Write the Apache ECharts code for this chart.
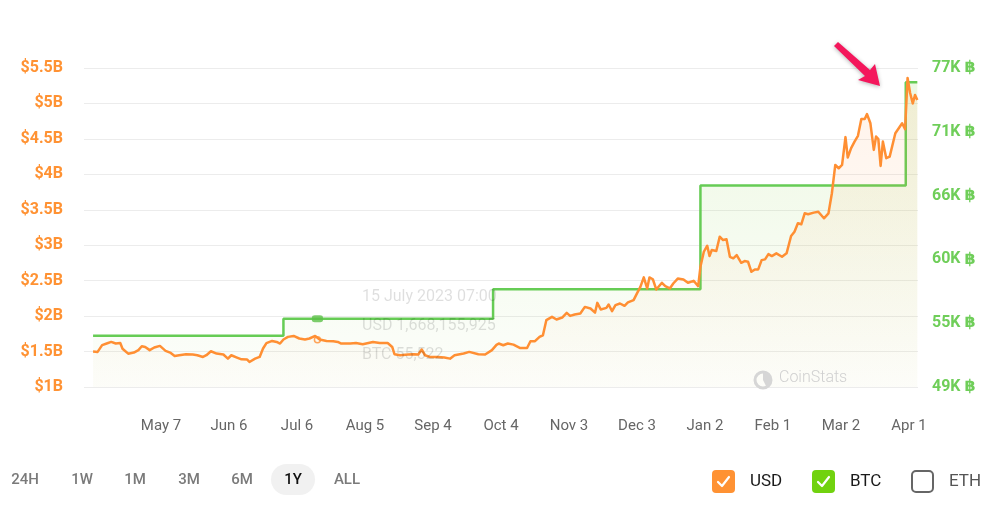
<!DOCTYPE html>
<html>
<head>
<meta charset="utf-8">
<script src="https://cdn.jsdelivr.net/npm/echarts@6/dist/echarts.min.js"></script>
<style>
  html, body { margin: 0; padding: 0; background: #fff; }
  #chart { width: 1003px; height: 517px; }
</style>
</head>
<body>
<div id="chart"></div>
<script>
// Day offsets counted from 7 April 2023 (day 0)
const tickDays = [30, 60, 90, 120, 150, 180, 210, 240, 270, 300, 330, 360];
const tickLabels = ['May 7', 'Jun 6', 'Jul 6', 'Aug 5', 'Sep 4', 'Oct 4', 'Nov 3', 'Dec 3', 'Jan 2', 'Feb 1', 'Mar 2', 'Apr 1'];

// USD value (billions)
const usdDay = [0, 2, 4, 6, 8, 10, 12, 13, 15.5, 18, 20, 21.5, 23, 25, 27, 29.5, 32, 34, 36, 38, 41, 44, 46, 48.5, 50, 52, 54.5, 57.5, 59.5, 61, 63.5, 65.5, 68, 69, 71.5, 73.5, 75, 76.5, 79, 81, 82.5, 84, 86, 88.5, 91, 93.5, 95.5, 98, 100, 103, 106, 108, 109.5, 113.5, 116, 119, 123.5, 126.5, 130, 132, 133, 135.5, 139, 141.5, 143.5, 145, 146.5, 148.5, 152, 155, 157.5, 159.5, 163.5, 166, 170, 173, 176, 178, 179, 181, 183, 185.5, 188.5, 191.5, 193, 195, 197, 198.5, 200, 202.5, 204.5, 207, 209, 210.5, 212.5, 215, 217, 219.5, 221.5, 222.5, 224, 226.5, 227.5, 229, 230.5, 232.5, 234.5, 236, 238.5, 240, 241.5, 243, 244.5, 245.5, 247, 248.5, 251, 252.5, 254.5, 256, 258, 260.5, 262.5, 265, 267, 268, 269.5, 271, 272, 273, 275, 276.5, 278, 279.5, 281, 282.5, 284, 286, 287.5, 289, 290.5, 292, 293.5, 295, 296.5, 298, 299.5, 301.5, 304, 306, 308, 309.5, 311, 312.5, 314, 315.5, 318, 320, 322.5, 324.5, 326, 327.5, 329, 330.5, 332, 333, 334.5, 336, 337.5, 339, 340.5, 341.5, 343, 344.5, 345.5, 346.5, 347.5, 348.5, 350, 351.5, 354, 355.5, 357, 358.3, 359.4, 360.5, 361.7, 362.7, 363.7];
const usdVal = [1.50, 1.495, 1.59, 1.613, 1.636, 1.613, 1.62, 1.54, 1.47, 1.486, 1.52, 1.575, 1.565, 1.52, 1.557, 1.58, 1.51, 1.486, 1.438, 1.448, 1.462, 1.458, 1.448, 1.424, 1.448, 1.504, 1.472, 1.458, 1.40, 1.448, 1.415, 1.39, 1.387, 1.353, 1.40, 1.424, 1.543, 1.62, 1.65, 1.636, 1.613, 1.67, 1.707, 1.72, 1.684, 1.67, 1.684, 1.72, 1.67, 1.65, 1.646, 1.636, 1.613, 1.613, 1.62, 1.603, 1.636, 1.62, 1.62, 1.565, 1.462, 1.448, 1.458, 1.462, 1.458, 1.529, 1.448, 1.424, 1.424, 1.415, 1.40, 1.448, 1.472, 1.495, 1.462, 1.458, 1.52, 1.595, 1.613, 1.589, 1.613, 1.598, 1.55, 1.55, 1.646, 1.646, 1.707, 1.73, 1.943, 1.99, 1.952, 1.98, 2.046, 2.003, 2.023, 2.037, 2.13, 2.108, 2.05, 2.187, 2.094, 2.116, 2.164, 2.07, 2.155, 2.178, 2.145, 2.193, 2.225, 2.32, 2.413, 2.546, 2.39, 2.546, 2.52, 2.376, 2.47, 2.423, 2.39, 2.46, 2.53, 2.518, 2.47, 2.498, 2.423, 2.696, 2.908, 2.993, 2.847, 2.932, 2.918, 3.12, 3.073, 3.083, 2.837, 2.815, 2.861, 2.752, 2.776, 2.767, 2.625, 2.659, 2.659, 2.79, 2.80, 2.875, 2.847, 2.885, 2.837, 2.885, 3.13, 3.19, 3.31, 3.295, 3.45, 3.437, 3.46, 3.473, 3.38, 3.45, 3.733, 4.133, 4.086, 4.133, 4.525, 4.237, 4.37, 4.462, 4.543, 4.78, 4.78, 4.85, 4.72, 4.345, 4.533, 4.496, 4.119, 4.462, 4.227, 4.25, 4.58, 4.65, 4.72, 4.637, 5.36, 5.15, 5.0, 5.12, 5.05];

// BTC holdings
const btcDay = [0, 84, 176.5, 268, 358.6, 363.7];
const btcVal = [53500, 55000, 57570, 66680, 75740, 75740];

// Left and right axis ranges
const usdMin = 1, usdMax = 5.5, usdStep = 0.5;
const btcMin = 49000, btcMax = 77000, btcStep = 5600;

// Highlighted point (tooltip)
const hoverDay = 99;
const hoverUsd = 1.668155925;
const hoverBtc = 55000;
const tooltipLines = ['15 July 2023 07:00', 'USD 1,668,155,925', 'BTC 55,522'];

const rangeButtons = ['24H', '1W', '1M', '3M', '6M', '1Y', 'ALL'];
const legendItems = ['USD', 'BTC', 'ETH'];

const usdData = usdDay.map((d, i) => [d, usdVal[i]]);
const btcData = btcDay.map((d, i) => [d, btcVal[i]]);

function fmtUsd(v) {
  return '$' + (+v.toFixed(1)) + 'B';
}

const chart = echarts.init(document.getElementById('chart'), null, { renderer: 'canvas' });

const graphics = [];
tooltipLines.forEach((t, i) => {
  graphics.push({ type: 'text', left: 362, top: 289 + i * 29, style: { text: t, fill: 'rgba(0,0,0,0.13)', font: '16px Roboto' }, z: 6 });
});
// CoinStats watermark
graphics.push({ type: 'circle', shape: { cx: 763, cy: 380, r: 8 }, style: { fill: 'none', stroke: '#d6d6d6', lineWidth: 3 }, z: 5 });
graphics.push({ type: 'sector', shape: { cx: 763, cy: 380, r: 8, r0: 0, startAngle: -Math.PI / 2, endAngle: Math.PI * 0.35 }, style: { fill: '#d6d6d6' }, z: 5 });
graphics.push({ type: 'text', left: 779, top: 370, style: { text: 'CoinStats', fill: '#d0d0d0', font: '300 16px Roboto' }, z: 5 });

// pink arrow
graphics.push({
  type: 'polygon',
  shape: { points: [[834, 46], [838, 42], [870, 70], [875, 64], [880, 86], [858, 80], [865, 76]] },
  style: { fill: '#f4175c', shadowBlur: 4, shadowColor: 'rgba(0,0,0,0.3)', shadowOffsetY: 1 },
  z: 10
});

// range buttons
const btnX = [25, 82, 135, 189, 242, 293, 347];
rangeButtons.forEach((b, i) => {
  if (b === '1Y') {
    graphics.push({ type: 'rect', shape: { x: btnX[i] - 22, y: 464, width: 44, height: 31, r: 15.5 }, style: { fill: '#f1f1f1' } });
  }
  graphics.push({ type: 'text', x: btnX[i], y: 480, style: { text: b, fill: b === '1Y' ? '#111' : '#7a7a7a', font: '500 15px Roboto', align: 'center', verticalAlign: 'middle' } });
});

// legend checkboxes
const legX = [712, 812, 911];
const legFill = ['#ff9233', '#71d20f', null];
legendItems.forEach((l, i) => {
  const x = legX[i];
  if (legFill[i]) {
    graphics.push({ type: 'rect', shape: { x: x, y: 470, width: 23, height: 23, r: 4 }, style: { fill: legFill[i] } });
    graphics.push({ type: 'polyline', shape: { points: [[x + 6, 482], [x + 10, 486], [x + 17, 477]] }, style: { stroke: '#fff', lineWidth: 2.2, fill: 'none', lineCap: 'round', lineJoin: 'round' } });
  } else {
    graphics.push({ type: 'rect', shape: { x: x + 1, y: 471, width: 21, height: 21, r: 4 }, style: { fill: '#fff', stroke: '#666', lineWidth: 2 } });
  }
  graphics.push({ type: 'text', x: x + 38, y: 482, style: { text: l, fill: legFill[i] ? '#1a1a1a' : '#555', font: '17px Roboto', verticalAlign: 'middle' } });
});

const option = {
  animation: false,
  backgroundColor: '#fff',
  grid: { left: 84, right: 85, top: 68, bottom: 130, containLabel: false },
  xAxis: {
    type: 'value',
    min: -4,
    max: 364,
    axisLine: { show: false },
    axisTick: { show: false },
    splitLine: { show: false },
    axisLabel: {
      customValues: tickDays,
      margin: 32,
      color: '#666',
      fontSize: 15,
      fontFamily: 'Roboto',
      formatter: v => tickLabels[tickDays.indexOf(Math.round(v))] || ''
    }
  },
  yAxis: [
    {
      type: 'value',
      min: usdMin, max: usdMax, interval: usdStep,
      position: 'left',
      axisLine: { show: false }, axisTick: { show: false },
      splitLine: { lineStyle: { color: '#ececec', width: 1 } },
      axisLabel: { margin: 21, color: '#ff9233', fontSize: 16, fontWeight: 'bold', fontFamily: 'Roboto', formatter: fmtUsd }
    },
    {
      type: 'value',
      min: btcMin, max: btcMax, interval: btcStep,
      position: 'right',
      axisLine: { show: false }, axisTick: { show: false },
      splitLine: { show: false },
      axisLabel: {
        margin: 14, color: '#6fce59',
        formatter: v => '{n|' + Math.round(v / 1000) + 'K }{b|\u0E3F}',
        rich: {
          n: { color: '#6fce59', fontSize: 16, fontWeight: 'bold', fontFamily: 'Roboto' },
          b: { color: '#6fce59', fontSize: 16, fontWeight: 'bold', fontFamily: '"DejaVu Sans"' }
        }
      }
    }
  ],
  series: [
    {
      name: 'BTC', type: 'line', yAxisIndex: 1, data: btcData, step: 'end',
      symbol: 'none',
      lineStyle: { color: '#66cc55', width: 2.5 },
      areaStyle: {
        color: new echarts.graphic.LinearGradient(0, 0, 0, 1, [
          { offset: 0, color: 'rgba(140,210,70,0.22)' },
          { offset: 1, color: 'rgba(140,210,70,0.03)' }
        ])
      },
      z: 2
    },
    {
      name: 'USD', type: 'line', yAxisIndex: 0, data: usdData,
      symbol: 'none',
      lineStyle: { color: '#ff8f33', width: 2.5, join: 'round' },
      areaStyle: {
        color: new echarts.graphic.LinearGradient(0, 0, 0, 1, [
          { offset: 0, color: 'rgba(255,150,70,0.16)' },
          { offset: 1, color: 'rgba(255,150,70,0.02)' }
        ])
      },
      z: 3
    },
    {
      type: 'scatter', yAxisIndex: 1, data: [[hoverDay, hoverBtc]],
      symbol: 'roundRect', symbolSize: [11, 7],
      itemStyle: { color: '#5cc048' }, z: 4
    },
    {
      type: 'scatter', yAxisIndex: 0, data: [[hoverDay, hoverUsd]],
      symbol: 'circle', symbolSize: 6,
      itemStyle: { color: 'rgba(255,255,255,0)', borderColor: '#ff8f33', borderWidth: 1.5 }, z: 4
    }
  ],
  graphic: graphics
};
chart.setOption(option);
</script>
</body>
</html>
